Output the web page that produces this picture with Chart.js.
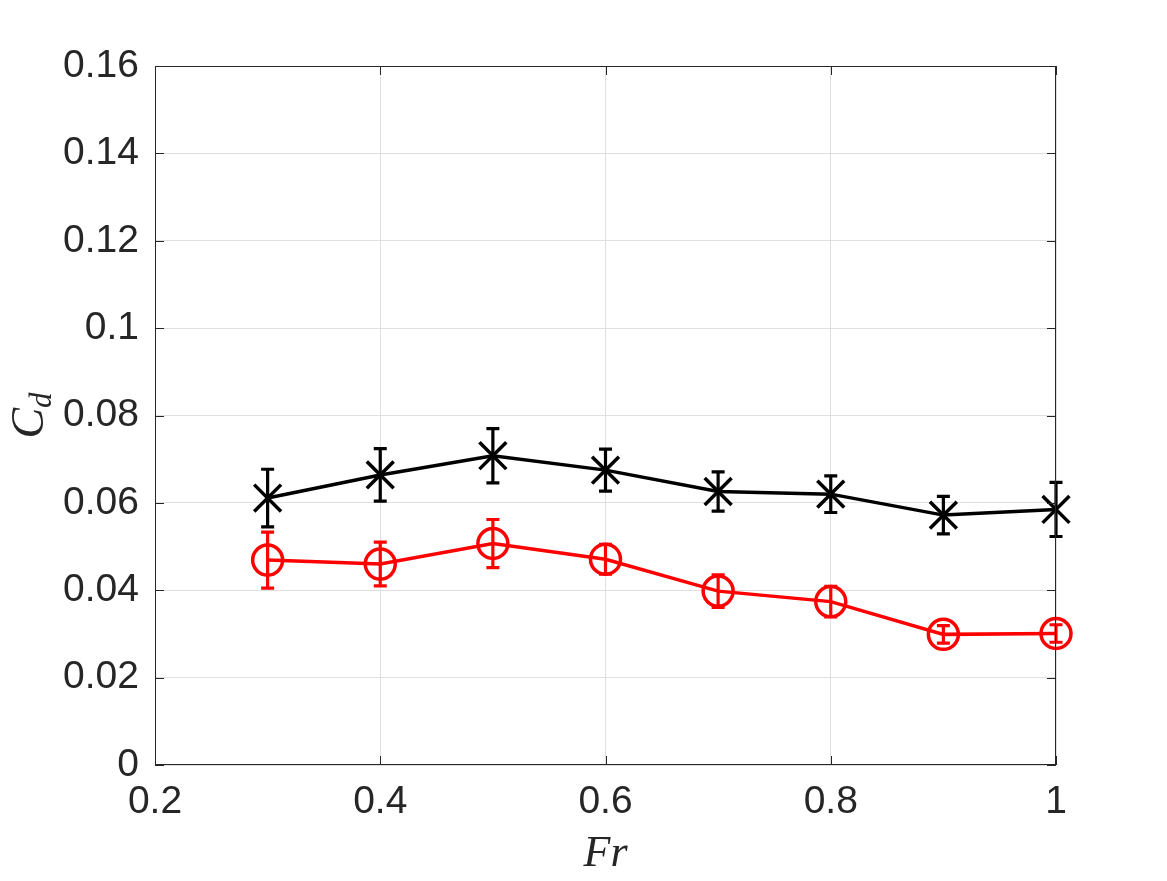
<!DOCTYPE html>
<html>
<head>
<meta charset="utf-8">
<script src="https://cdn.jsdelivr.net/npm/chart.js@4"></script>
<style>
  body { margin: 0; background: #fff; }
  #wrap { width: 1167px; height: 881px; }
</style>
</head>
<body>
<div id="wrap"><canvas id="cdChart" width="1167" height="881"></canvas></div>
<script>
// data
const fr = [0.3, 0.4, 0.5, 0.6, 0.7, 0.8, 0.9, 1.0];
const cdBlack = [0.0611, 0.0664, 0.0708, 0.0675, 0.0626, 0.0620, 0.0572, 0.0585];
const errBlack = [0.0066, 0.0060, 0.0062, 0.0048, 0.0045, 0.0042, 0.0043, 0.0062];
const cdRed = [0.0469, 0.0460, 0.0507, 0.0471, 0.0398, 0.0374, 0.0299, 0.0301];
const errRed = [0.0064, 0.0050, 0.0055, 0.0034, 0.0037, 0.0035, 0.0020, 0.0020];
const xTicks = ["0.2", "0.4", "0.6", "0.8", "1"];
const yTicks = ["0", "0.02", "0.04", "0.06", "0.08", "0.1", "0.12", "0.14", "0.16"];

const axisColor = "#262626";

function pts(ys) {
  return fr.map((x, i) => ({ x: x, y: ys[i] }));
}

// error bars + box + inward ticks + axis titles
const matlabLook = {
  id: "matlabLook",
  afterDatasetsDraw(chart) {
    const ctx = chart.ctx;
    const xs = chart.scales.x, ys = chart.scales.y;
    const sets = [[cdBlack, errBlack, "#000000"], [cdRed, errRed, "#ff0000"]];
    ctx.save();
    ctx.lineWidth = 3.2;
    sets.forEach(([vals, errs, col]) => {
      ctx.strokeStyle = col;
      vals.forEach((v, i) => {
        const px = xs.getPixelForValue(fr[i]);
        const top = ys.getPixelForValue(v + errs[i]);
        const bot = ys.getPixelForValue(v - errs[i]);
        ctx.beginPath();
        ctx.moveTo(px, top); ctx.lineTo(px, bot);
        ctx.moveTo(px - 6.5, top); ctx.lineTo(px + 6.5, top);
        ctx.moveTo(px - 6.5, bot); ctx.lineTo(px + 6.5, bot);
        ctx.stroke();
      });
    });
    ctx.restore();
  },
  afterDraw(chart) {
    const ctx = chart.ctx;
    const a = chart.chartArea;
    const xs = chart.scales.x, ys = chart.scales.y;
    ctx.save();
    ctx.strokeStyle = axisColor;
    ctx.lineWidth = 1;
    ctx.strokeRect(a.left + 0.5, a.top + 0.5, a.right - a.left - 1, a.bottom - a.top - 1);
    const tl = 9;
    ctx.beginPath();
    xs.ticks.forEach(t => {
      const px = Math.round(xs.getPixelForValue(t.value)) + 0.5;
      ctx.moveTo(px, a.bottom); ctx.lineTo(px, a.bottom - tl);
      ctx.moveTo(px, a.top); ctx.lineTo(px, a.top + tl);
    });
    ys.ticks.forEach(t => {
      const py = Math.round(ys.getPixelForValue(t.value)) + 0.5;
      ctx.moveTo(a.left, py); ctx.lineTo(a.left + tl, py);
      ctx.moveTo(a.right, py); ctx.lineTo(a.right - tl, py);
    });
    ctx.stroke();

    // axis titles
    ctx.fillStyle = axisColor;
    ctx.textAlign = "center";
    ctx.textBaseline = "alphabetic";
    ctx.font = "italic 44px 'Liberation Serif'";
    ctx.fillText("Fr", (a.left + a.right) / 2, 866);

    ctx.translate(43, (a.top + a.bottom) / 2);
    ctx.rotate(-Math.PI / 2);
    ctx.textAlign = "left";
    ctx.font = "italic 46px 'Liberation Serif'";
    const cw = ctx.measureText("C").width;
    ctx.font = "italic 31px 'Liberation Serif'";
    const dw = ctx.measureText("d").width;
    const x0 = -(cw + dw) / 2;
    ctx.font = "italic 46px 'Liberation Serif'";
    ctx.fillText("C", x0, 0);
    ctx.font = "italic 31px 'Liberation Serif'";
    ctx.fillText("d", x0 + cw, 8);
    ctx.restore();
  }
};

new Chart(document.getElementById("cdChart"), {
  type: "scatter",
  data: {
    datasets: [
      {
        data: pts(cdBlack),
        showLine: true,
        clip: false,
        borderColor: "#000000",
        backgroundColor: "rgba(0,0,0,0)",
        borderWidth: 3.5,
        pointStyle: "crossRot",
        pointRadius: 19,
        pointBorderWidth: 3.5,
        pointBorderColor: "#000000",
      },
      {
        data: pts(cdRed),
        showLine: true,
        clip: false,
        borderColor: "#ff0000",
        backgroundColor: "rgba(0,0,0,0)",
        borderWidth: 3.5,
        pointStyle: "circle",
        pointRadius: 15,
        pointBorderWidth: 3.5,
        pointBorderColor: "#ff0000",
        pointBackgroundColor: "rgba(0,0,0,0)",
      },
    ],
  },
  options: {
    responsive: false,
    animation: false,
    layout: { padding: { left: 0, top: 66, right: 111, bottom: 0 } },
    plugins: { legend: { display: false }, tooltip: { enabled: false } },
    scales: {
      x: {
        type: "linear",
        min: 0.2,
        max: 1,
        afterBuildTicks(scale) {
          scale.ticks = xTicks.map(s => ({ value: parseFloat(s) }));
        },
        afterFit(scale) { scale.height = 116; },
        ticks: {
          color: axisColor,
          font: { family: "'Liberation Sans', Arial, sans-serif", size: 39 },
          padding: 14,
          maxRotation: 0,
          callback: (v, i) => xTicks[i],
        },
        grid: { color: "#dfdfdf", drawTicks: false },
        border: { display: false },
      },
      y: {
        type: "linear",
        min: 0,
        max: 0.16,
        afterBuildTicks(scale) {
          scale.ticks = yTicks.map(s => ({ value: parseFloat(s) }));
        },
        afterFit(scale) { scale.width = 155; },
        ticks: {
          color: axisColor,
          font: { family: "'Liberation Sans', Arial, sans-serif", size: 39 },
          padding: 16,
          callback: (v, i) => yTicks[i],
        },
        grid: { color: "#dfdfdf", drawTicks: false },
        border: { display: false },
      },
    },
  },
  plugins: [matlabLook],
});
</script>
</body>
</html>
